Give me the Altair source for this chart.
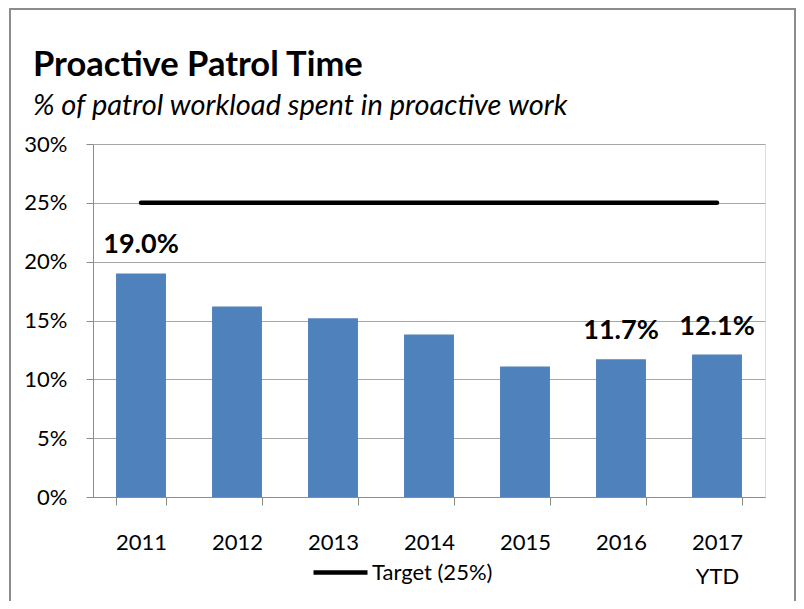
import altair as alt
import pandas as pd

years = ["2011", "2012", "2013", "2014", "2015", "2016", "2017 YTD"]
values = [19.0, 16.2, 15.2, 13.8, 11.1, 11.7, 12.1]
labels = ["19.0%", "", "", "", "", "11.7%", "12.1%"]
target = [25, 25, 25, 25, 25, 25, 25]
y_ticks = [0, 5, 10, 15, 20, 25, 30]
target_name = "Target (25%)"
title_text = "Proactive Patrol Time"
subtitle_text = "% of patrol workload spent in proactive work"

df = pd.DataFrame({"year": years, "value": values, "label": labels,
                   "target": target, "series": [target_name] * len(years)})
df_title = pd.DataFrame({"title": [title_text], "subtitle": [subtitle_text]})

FONT = "Lato"
W, H = 672, 353

x_enc = alt.X("year:N", sort=years, title=None,
              scale=alt.Scale(paddingInner=0.48, paddingOuter=0.24),
              axis=alt.Axis(labelAngle=0, labelExpr="split(datum.label, ' ')",
                            labelFontSize=22, labelColor="#000000", labelFont=FONT,
                            labelPadding=27, tickBand="extent", tickSize=8,
                            tickColor="#8c8c8c", domainColor="#8c8c8c", labelLineHeight=34))
y_scale = alt.Scale(domain=[0, 30], nice=False)
y_axis = alt.Axis(values=y_ticks, labelExpr="datum.value + '%'", title=None,
                  labelFontSize=22, labelColor="#000000", labelFont=FONT,
                  tickSize=7, tickColor="#8c8c8c", domainColor="#8c8c8c",
                  gridColor="#a6a6a6", gridWidth=1.2, labelPadding=19)

base = alt.Chart(df)
tbase = alt.Chart(df_title)

border = tbase.mark_rect(fill=None, stroke="#8c8c8c", strokeWidth=2).encode(
    x=alt.value(-83), x2=alt.value(702), y=alt.value(-135), y2=alt.value(470)
)

title = tbase.mark_text(font=FONT, fontSize=34.5, fontWeight="bold", align="left",
                        baseline="alphabetic", color="#000000").encode(
    x=alt.value(-60), y=alt.value(-68), text="title:N")
subtitle = tbase.mark_text(font=FONT, fontSize=29, fontStyle="italic", align="left",
                           baseline="alphabetic", color="#000000").encode(
    x=alt.value(-60), y=alt.value(-29), text="subtitle:N")

bars = base.mark_bar(color="#4f81bd").encode(
    x=x_enc,
    y=alt.Y("value:Q", scale=y_scale, axis=y_axis),
)

text = base.mark_text(fontSize=27, fontWeight="bold", font=FONT, baseline="alphabetic",
                      dy=-20, color="#000000").encode(
    x=alt.X("year:N", sort=years),
    y=alt.Y("value:Q", scale=y_scale),
    text="label:N",
)

line = base.mark_line(strokeWidth=4.5, strokeCap="round").encode(
    x=alt.X("year:N", sort=years),
    y=alt.Y("target:Q", scale=y_scale),
    color=alt.Color("series:N",
                    scale=alt.Scale(domain=[target_name], range=["#000000"]),
                    legend=alt.Legend(title=None, orient="none", legendX=218, legendY=399,
                                      symbolType="stroke", symbolSize=2916,
                                      symbolStrokeWidth=4.5, symbolStrokeColor="#000000",
                                      labelFontSize=22, labelFont=FONT, labelColor="#000000",
                                      labelOffset=2, padding=0)),
)

chart = alt.layer(border, title, subtitle, bars, line, text).properties(
    width=W, height=H,
    autosize=alt.AutoSizeParams(type="none"),
    padding={"left": 85, "top": 136, "right": 31, "bottom": 104},
).configure_view(stroke=None).configure(background="#ffffff")

chart.save("out.html", embed_options={"renderer": "svg", "actions": False})
